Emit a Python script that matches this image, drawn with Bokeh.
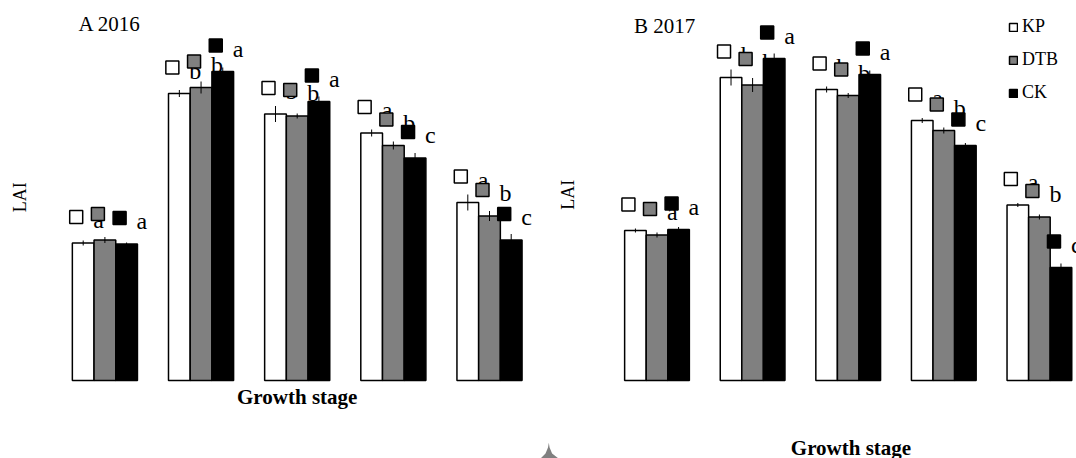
import math
from bokeh.plotting import figure
from bokeh.layouts import row
from bokeh.models import Range1d, Label, Legend, LegendItem, PolyAnnotation
from bokeh.core.properties import value
from bokeh.embed import file_html
from bokeh.resources import INLINE

# ---------------- data (LAI) ----------------
stages = [0, 1, 2, 3, 4]          # five growth stages (not labelled in the figure)
treatments = ["KP", "DTB", "CK"]

lai_2016_kp = [2.75, 5.74, 5.33, 4.95, 3.56]
lai_2016_dtb = [2.81, 5.86, 5.29, 4.70, 3.29]
lai_2016_ck = [2.73, 6.18, 5.58, 4.45, 2.81]
err_2016_kp = [0.05, 0.07, 0.16, 0.07, 0.16]
err_2016_dtb = [0.06, 0.12, 0.05, 0.08, 0.10]
err_2016_ck = [0.03, 0.08, 0.10, 0.10, 0.12]
sig_2016_kp = ["a", "b", "b", "a", "a"]
sig_2016_dtb = ["a", "b", "b", "b", "b"]
sig_2016_ck = ["a", "a", "a", "c", "c"]

lai_2017_kp = [3.00, 6.06, 5.82, 5.20, 3.51]
lai_2017_dtb = [2.91, 5.91, 5.70, 5.00, 3.27]
lai_2017_ck = [3.02, 6.44, 6.12, 4.70, 2.26]
err_2017_kp = [0.04, 0.16, 0.06, 0.05, 0.04]
err_2017_dtb = [0.05, 0.14, 0.05, 0.06, 0.05]
err_2017_ck = [0.05, 0.10, 0.08, 0.05, 0.08]
sig_2017_kp = ["a", "b", "b", "a", "a"]
sig_2017_dtb = ["a", "b", "b", "b", "b"]
sig_2017_ck = ["a", "a", "a", "c", "c"]

# ---------------- style / layout ----------------
FILLS = ["white", "#808080", "black"]
SERIF = "Liberation Serif"
H = 458
BASE_PX = 380.0        # page y of the bar baseline
PX_Y = 50.0            # pixels per LAI unit
Y0, Y1 = -(H - BASE_PX) / PX_Y, BASE_PX / PX_Y
BW = 0.2257            # bar width in stage units
FIX = 7.0              # px correction for alphabetic text baseline
KEY_DX, KEY_DY = -7.0, 26.0   # px offset of label key from bar top centre
LET_DX, LET_DY = 17.0, 10.0 - FIX   # px offset of letter baseline from key centre


def panel(width, px_x, x_first_px, title, title_pos, lai_pos, gs_pos,
          vals, errs, sigs):
    x0 = -x_first_px / px_x
    p = figure(width=width, height=H, x_range=Range1d(x0, x0 + width / px_x),
               y_range=Range1d(Y0, Y1), x_axis_type=None, y_axis_type=None,
               toolbar_location=None, output_backend="svg", min_border=0,
               title=None, outline_line_color=None)
    bars = []
    for k in range(3):
        xs = [s + (k - 1) * BW for s in stages]
        r = p.vbar(x=xs, top=vals[k], bottom=0, width=BW, fill_color=FILLS[k],
                   line_color="black", line_width=1.5)
        bars.append(r)
    for k in range(3):
        xs = [s + (k - 1) * BW for s in stages]
        p.segment(x0=xs, x1=xs, y0=[v - e for v, e in zip(vals[k], errs[k])],
                  y1=[v + e for v, e in zip(vals[k], errs[k])],
                  line_color="black", line_width=1)
    for k in range(3):
        xs = [s + (k - 1) * BW + KEY_DX / px_x for s in stages]
        ys = [v + KEY_DY / PX_Y for v in vals[k]]
        p.scatter(x=xs, y=ys, marker="square", size=13, fill_color=FILLS[k],
                  line_color="black", line_width=1.5)
        p.text(x=[x + LET_DX / px_x for x in xs], y=[y - LET_DY / PX_Y for y in ys],
               text=sigs[k], text_font=value(SERIF), text_font_size="24px",
               text_align="left", text_baseline="alphabetic", text_color="black")
    p.add_layout(Label(x=title_pos[0], y=H - title_pos[1] + FIX, x_units="screen",
                       y_units="screen", text=title, text_font=SERIF,
                       text_font_size="21px", text_align="left", text_color="black",
                       text_baseline="alphabetic"))
    p.add_layout(Label(x=lai_pos[0], y=H - lai_pos[1], x_units="screen", y_units="screen",
                       text="LAI", angle=math.pi / 2, text_font=SERIF,
                       text_font_size="18px", text_align="center", text_color="black",
                       text_baseline="middle"))
    p.add_layout(Label(x=gs_pos[0], y=H - gs_pos[1] + FIX, x_units="screen",
                       y_units="screen", text="Growth stage", text_font=SERIF,
                       text_font_size="21px", text_font_style="bold", text_color="black",
                       text_align="center", text_baseline="alphabetic"))
    return p, bars


# positions below are page pixels (x from panel left, y from top)
pA, _ = panel(540, 96.15, 104.4, "A 2016", (78, 30.7), (19.7, 196.7), (296.7, 403.3),
              [lai_2016_kp, lai_2016_dtb, lai_2016_ck],
              [err_2016_kp, err_2016_dtb, err_2016_ck],
              [sig_2016_kp, sig_2016_dtb, sig_2016_ck])

pB, barsB = panel(536, 95.6, 116.5, "B 2017", (93.5, 32.3), (27.4, 194.2), (310.5, 454),
                  [lai_2017_kp, lai_2017_dtb, lai_2017_ck],
                  [err_2017_kp, err_2017_dtb, err_2017_ck],
                  [sig_2017_kp, sig_2017_dtb, sig_2017_ck])

legend = Legend(items=[LegendItem(label=t, renderers=[r]) for t, r in zip(treatments, barsB)],
                location=(468, 355), orientation="vertical", glyph_width=10,
                glyph_height=10, label_standoff=4, spacing=12, padding=0, margin=0,
                border_line_color=None, background_fill_alpha=0,
                label_text_font=SERIF, label_text_font_size="18px",
                label_text_color="black")
pB.add_layout(legend)

pB.add_layout(PolyAnnotation(xs=[0, 5, 7.5, 8.3, 9.1, 11.6, 18],
                             ys=[0, 5, 11, 15.7, 11, 5, 0],
                             xs_units="screen", ys_units="screen",
                             fill_color="#808080", fill_alpha=1, line_color=None))

layout = row(pA, pB, spacing=0)
open("out.html", "w").write(file_html(layout, INLINE))
